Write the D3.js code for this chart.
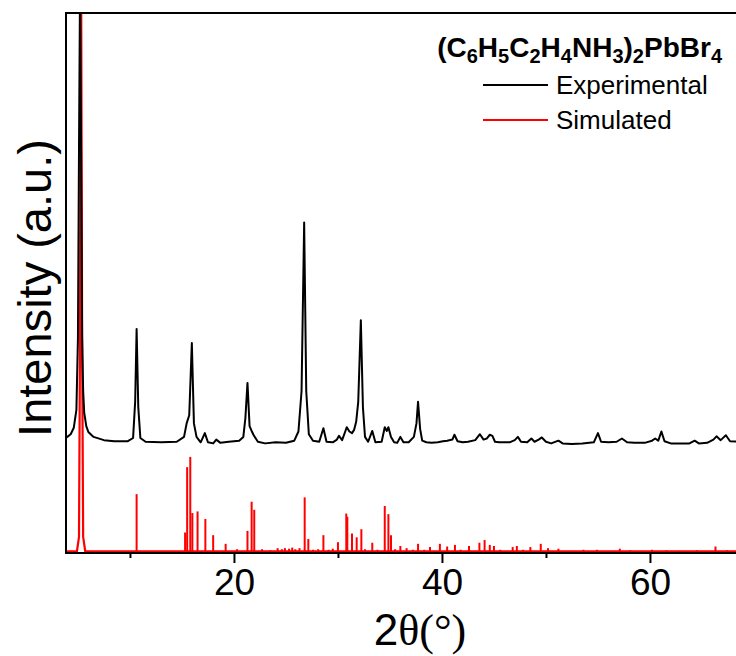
<!DOCTYPE html>
<html lang="en">
    <head>
        <meta charset="utf-8">
        <title>XRD pattern</title>
        <script src="https://cdnjs.cloudflare.com/ajax/libs/d3/7.8.5/d3.min.js"></script>
        <style>
        body{
            margin:0;
            background-color:white;
        }
        svg{
            display:block;
        }
        </style>
    </head>
    <body>
        <script type="text/javascript">

            // experimental pattern, [2theta, intensity] (already offset upwards)
            var expPoints = [
                [3.9,21.4],[4.3,22.0],[4.6,23.2],[4.85,26.5],[5.0,40],[5.1,75],[5.2,105],[5.3,75],
                [5.4,40],[5.5,30],[5.6,26],[5.8,23.5],
                [6.0,22.4],[6.5,21.5],[7.5,20.9],[8.5,20.7],[9.8,20.7],[10.3,21.3],[10.5,28],
                [10.64,41.5],[10.8,27],[11.0,21.3],[11.5,20.6],[13,20.5],[14.5,20.6],[15.2,21.5],
                [15.45,24.0],[15.7,25.5],[15.95,38.9],[16.15,24],[16.4,21.5],[16.6,21.0],[16.8,20.5],
                [17.2,22.2],[17.5,20.5],[18.0,20.3],[18.3,21.0],[18.7,20.4],[19.5,20.6],[20.5,20.8],
                [20.9,21.5],[21.1,25],[21.3,31.5],[21.5,23.5],[21.7,22.6],[21.9,21.8],[22.3,20.6],
                [23,20.3],[24,20.5],[25,20.4],[25.8,20.8],[26.2,22.5],[26.5,30],[26.75,61.2],
                [26.95,30],[27.2,22],[27.6,20.8],[28.2,20.6],[28.6,23.1],[28.9,20.6],[29.5,20.5],
                [29.9,21.0],[30.1,21.7],[30.4,20.9],[30.7,22.5],[30.85,23.3],[31.1,22.5],[31.35,22.2],
                [31.55,22.8],[31.75,24.3],[31.95,28],[32.2,43.1],[32.4,27],[32.6,21.5],[32.9,20.6],
                [33.3,22.6],[33.6,20.5],[34.2,20.6],[34.5,23.3],[34.7,22.6],[34.85,23.3],[35.1,21.5],
                [35.4,20.5],[35.7,20.4],[36.0,21.5],[36.3,20.5],[36.8,20.5],[37.3,21.5],[37.55,24],
                [37.7,28.0],[37.9,23],[38.1,20.8],[38.5,20.5],[39,20.4],[39.6,20.5],[40.1,20.7],
                [40.5,20.8],[41.0,21.0],[41.2,21.9],[41.5,20.7],[42,20.5],[42.5,20.6],[43.2,20.9],
                [43.65,22.0],[44.0,21.0],[44.3,21.2],[44.6,21.9],[44.85,21.7],[45.1,20.6],[45.5,20.5],
                [46.5,20.5],[47.0,20.9],[47.3,21.5],[47.6,20.6],[48.2,20.5],[48.6,21.2],[48.9,20.6],
                [49.3,21.0],[49.6,21.4],[50.0,20.6],[50.5,20.3],[51.2,20.8],[51.6,20.3],[52.5,20.2],
                [53.5,20.3],[54.6,20.5],[55.0,22.2],[55.3,20.6],[56,20.5],[56.8,20.6],[57.3,21.2],
                [57.8,20.5],[58.5,20.4],[59.5,20.4],[60.2,20.8],[60.5,21.2],[60.8,20.8],[61.1,22.5],
                [61.4,20.7],[62,20.3],[63,20.3],[63.8,20.3],[64.3,20.8],[64.7,20.3],[65.5,20.4],
                [66.1,21.0],[66.4,21.6],[66.8,20.9],[67.3,21.8],[67.7,20.7],[68.5,20.6],[70,20.6]
            ];

            // simulated pattern: the first (00l) reflection is drawn as a profile
            var simMainPeak = [
                [3.85,0.3],[4.9,0.3],[5.1,3],[5.2,40],[5.3,110],[5.4,40],[5.5,3],[5.7,0.3]
            ];

            // simulated reflections as sticks [2theta, intensity]
            var simSticks = [
                [10.64,10.9],[15.3,3.8],[15.5,15.9],[15.8,17.8],[16.0,7.4],[16.5,7.7],[17.25,6.3],
                [18.0,3.3],[19.2,1.7],[20.3,0.7],[21.3,4.1],[21.7,9.5],[21.95,8.0],[22.7,0.7],
                [23.5,0.5],[24.2,0.9],[24.6,0.7],[24.9,0.9],[25.3,0.8],[25.6,1.0],[25.9,0.7],
                [26.3,0.9],[26.8,10.3],[27.15,2.6],[27.6,0.6],[28.1,0.7],[28.6,3.3],[29.1,0.6],
                [29.5,0.8],[30.0,2.0],[30.8,7.3],[30.9,6.7],[31.35,3.6],[31.8,2.9],[32.25,4.4],
                [32.6,0.7],[33.3,1.9],[33.8,0.6],[34.5,8.7],[34.85,7.2],[35.1,3.3],[35.5,0.7],
                [36.0,1.3],[36.6,0.9],[37.2,0.6],[37.7,1.7],[38.3,0.6],[38.85,1.1],[39.8,1.7],
                [40.5,1.2],[41.25,1.5],[41.8,0.6],[42.6,1.3],[43.6,1.9],[44.1,2.4],[44.6,1.5],
                [45.0,1.3],[45.6,0.6],[46.8,1.1],[47.2,1.3],[47.8,0.6],[48.5,1.1],[49.5,1.7],
                [50.2,0.9],[51.2,0.8],[52.3,0.4],[53.6,0.6],[54.9,0.6],[56.0,0.4],[57.1,0.8],
                [58.1,0.5],[59.2,0.4],[60.2,0.6],[61.6,0.5],[62.8,0.4],[64.5,0.5],[66.3,1.2],
                [67.4,0.5],[68.6,0.5]
            ];

            var majorTicks = [20, 40, 60];
            var minorTicks = [10, 30, 50, 70];

            var legendTitle = [
                ["(C",""],["6","sub"],["H",""],["5","sub"],["C",""],["2","sub"],["H",""],["4","sub"],
                ["NH",""],["3","sub"],[")",""],["2","sub"],["PbBr",""],["4","sub"]
            ];
            var seriesNames = ["Experimental", "Simulated"];
            var seriesColors = ["#000000", "#ff0000"];

            let w = 736;
            let h = 656;
            //note: "top" is taken by window.top, so use other names
            var plotLeft = 66, plotTop = 13, plotBottom = 553;

            var svg = d3.select("body")
                        .append("svg")
                        .attr("width", w)
                        .attr("height", h);

            //scales, right side of the frame runs past the picture
            var x = d3.scaleLinear().domain([3.85, 70]).range([plotLeft, plotLeft + 66.15 * 10.4]);
            var y = d3.scaleLinear().domain([0, 100]).range([plotBottom, plotTop]);

            svg.append("clipPath").attr("id", "plotClip")
               .append("rect")
               .attr("x", plotLeft).attr("y", plotTop)
               .attr("width", w - plotLeft).attr("height", plotBottom - plotTop);

            var plot = svg.append("g").attr("clip-path", "url(#plotClip)");

            var line = d3.line()
                         .x(function(d){ return x(d[0]); })
                         .y(function(d){ return y(d[1]); });

            //simulated baseline + main peak
            plot.append("path")
                .datum(simMainPeak.concat([[70, 0.3]]))
                .attr("d", line)
                .attr("fill", "none")
                .attr("stroke", seriesColors[1])
                .attr("stroke-width", 2.2);

            //simulated sticks
            plot.selectAll(".stick")
                .data(simSticks)
                .enter()
                .append("line")
                .attr("class", "stick")
                .attr("x1", function(d){ return x(d[0]); })
                .attr("x2", function(d){ return x(d[0]); })
                .attr("y1", y(0.3))
                .attr("y2", function(d){ return y(d[1]); })
                .attr("stroke", seriesColors[1])
                .attr("stroke-width", 2);

            //experimental curve
            plot.append("path")
                .datum(expPoints)
                .attr("d", line)
                .attr("fill", "none")
                .attr("stroke", seriesColors[0])
                .attr("stroke-width", 2)
                .attr("stroke-linejoin", "round");

            //frame
            svg.append("path")
               .attr("d", "M" + w + "," + plotTop + "H" + plotLeft + "V" + plotBottom + "H" + w)
               .attr("fill", "none")
               .attr("stroke", "#000")
               .attr("stroke-width", 2);

            //x axis
            var xAxis = d3.axisBottom(x)
                          .tickValues(majorTicks)
                          .tickSize(10)
                          .tickSizeOuter(0)
                          .tickPadding(6);
            var gx = svg.append("g")
                        .attr("transform", "translate(0," + plotBottom + ")")
                        .call(xAxis);
            gx.select(".domain").remove();
            gx.selectAll(".tick line").attr("stroke-width", 2);
            gx.selectAll(".tick text")
              .attr("font-family", "'Liberation Sans', Arial, sans-serif")
              .attr("font-size", 37)
              .attr("fill", "#000");

            var xMinor = d3.axisBottom(x).tickValues(minorTicks).tickSize(5).tickFormat("");
            var gm = svg.append("g")
                        .attr("transform", "translate(0," + plotBottom + ")")
                        .call(xMinor);
            gm.select(".domain").remove();
            gm.selectAll(".tick line").attr("stroke-width", 2);

            //axis titles
            var xt = svg.append("text")
                        .attr("x", 420)
                        .attr("y", 645)
                        .attr("text-anchor", "middle")
                        .attr("font-size", 44)
                        .attr("fill", "#000");
            xt.append("tspan").attr("font-family", "'Liberation Sans', Arial, sans-serif").text("2");
            xt.append("tspan").attr("font-family", "'Liberation Serif', 'Times New Roman', serif").text("θ(°)");

            svg.append("text")
               .attr("transform", "translate(51,288) rotate(-90)")
               .attr("text-anchor", "middle")
               .attr("font-family", "'Liberation Sans', Arial, sans-serif")
               .attr("font-size", 47)
               .attr("fill", "#000")
               .text("Intensity (a.u.)");

            //legend
            var lt = svg.append("text")
                        .attr("x", 722)
                        .attr("y", 57)
                        .attr("text-anchor", "end")
                        .attr("font-family", "'Liberation Sans', Arial, sans-serif")
                        .attr("font-weight", "bold")
                        .attr("font-size", 28)
                        .attr("fill", "#000");
            legendTitle.forEach(function(p){
                var t = lt.append("tspan").text(p[0]);
                if (p[1] == "sub") {
                    t.attr("font-size", 20).attr("dy", 6);
                } else {
                    t.attr("dy", -6);
                }
            });
            lt.select("tspan").attr("dy", 0);

            var legend = svg.selectAll(".legend")
                            .data(seriesNames)
                            .enter()
                            .append("g")
                            .attr("class", "legend")
                            .attr("transform", function(d, i){ return "translate(0," + (85 + i * 35) + ")"; });
            legend.append("line")
                  .attr("x1", 483).attr("x2", 548)
                  .attr("y1", 0).attr("y2", 0)
                  .attr("stroke", function(d, i){ return seriesColors[i]; })
                  .attr("stroke-width", 2);
            legend.append("text")
                  .attr("x", 556)
                  .attr("y", 9)
                  .attr("font-family", "'Liberation Sans', Arial, sans-serif")
                  .attr("font-size", 26)
                  .attr("fill", "#000")
                  .text(function(d){ return d; });

        </script>
    </body>
</html>
